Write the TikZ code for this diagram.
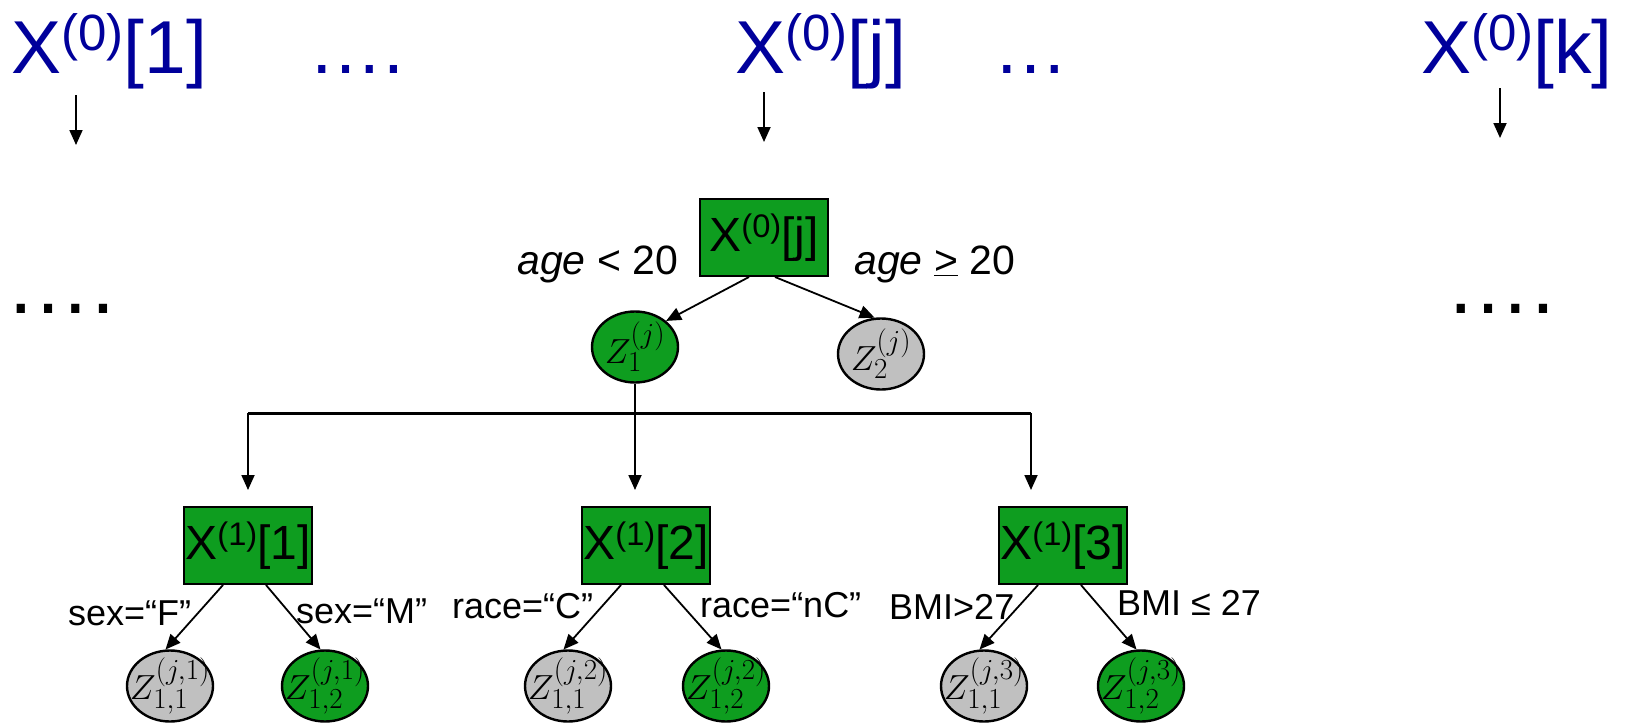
\documentclass[tikz,border=0pt]{standalone}
\usepackage[no-math]{fontspec}
\setmainfont{Liberation Sans}
\usepackage{graphicx}
\usetikzlibrary{shapes.geometric,arrows.meta}
\definecolor{nodegreen}{RGB}{14,157,31}
\definecolor{xblue}{RGB}{0,0,155}
\definecolor{nodegray}{RGB}{192,192,192}
\newcommand\xsup[1]{\raisebox{0.3em}{\scalebox{0.68}{(#1)}}}
\newcommand\zlab[1]{\scalebox{1.4}{$#1$}}
\begin{document}
\begin{tikzpicture}[x=1pt,y=-1pt,
  bigtxt/.style={font=\fontsize{75}{75}\selectfont, text=xblue, inner sep=0pt, anchor=base west},
  bigdots/.style={font=\fontsize{86}{86}\selectfont, text=black, inner sep=0pt, anchor=base west},
  boxnode/.style={draw, line width=2pt, fill=nodegreen, minimum width=128pt, minimum height=77pt, inner sep=0pt, font=\fontsize{48}{48}\selectfont},
  ellip/.style={ellipse, draw, line width=2.4pt, minimum width=86pt, minimum height=71pt, inner sep=0pt},
  greenell/.style={ellip, fill=nodegreen},
  grayell/.style={ellip, fill=nodegray},
  zt/.style={font=\fontsize{24.88}{25}\selectfont, inner sep=0pt},
  lbl/.style={font=\fontsize{36}{36}\selectfont, inner sep=0pt, anchor=base west},
  rlbl/.style={font=\fontsize{41}{41}\selectfont, inner sep=0pt, anchor=base west},
  arr/.style={-{Triangle[length=15pt,width=13pt]}, line width=1.8pt},
  bar/.style={line width=3pt}
]
\useasboundingbox (0,0) rectangle (1633,723);

% top row
\node[bigtxt] (x1) at (11,73) {X\xsup{0}[1]};
\node[bigtxt] (d1) at (308,73) {….};
\node[bigtxt] (xj) at (735,73) {X\xsup{0}[j]};
\node[bigtxt] (d2) at (993,73) {…};
\node[bigtxt] (xk) at (1421,73) {X\xsup{0}[k]};

\coordinate (a1s) at (76,95);   \coordinate (a1e) at (76,145);
\coordinate (a2s) at (764,92);  \coordinate (a2e) at (764,142);
\coordinate (a3s) at (1500,88); \coordinate (a3e) at (1500,138);
\draw[arr] (a1s) -- (a1e);
\draw[arr] (a2s) -- (a2e);
\draw[arr] (a3s) -- (a3e);

\node[bigdots] (ld) at (5,313) {….};
\node[bigdots] (rd) at (1445,313) {….};

% root
\node[boxnode] (root) at (764,237.5) {X\xsup{0}[j]};
\node[rlbl] (lage) at (517,274) {\textit{age} < 20};
\node[rlbl] (rage) at (854,274) {\textit{age} \underline{>} 20};

\node[greenell] (z1) at (635,347) {};
\node[zt] (z1t) at (z1) {\zlab{Z_{1}^{(j)}}};
\node[grayell] (z2) at (881,354) {};
\node[zt] (z2t) at (z2) {\zlab{Z_{2}^{(j)}}};

\draw[arr] ([xshift=-15pt]root.south) -- (z1.40);
\draw[arr] ([xshift=11pt]root.south) -- (z2.100);

% distribution bar
\coordinate (jn) at (635,413);
\coordinate (bl) at (248,413);
\coordinate (br) at (1031,413);
\coordinate (t1) at (248,490);
\coordinate (t2) at (635,490);
\coordinate (t3) at (1031,490);
\draw[line width=2pt] (z1.south) -- (jn);
\draw[bar] (bl) -- (br);
\draw[arr] (bl) -- (t1);
\draw[arr] (jn) -- (t2);
\draw[arr] (br) -- (t3);

% second level
\node[boxnode] (b1) at (248,545.5) {X\xsup{1}[1]};
\node[boxnode] (b2) at (646,545.5) {X\xsup{1}[2]};
\node[boxnode] (b3) at (1063,545.5) {X\xsup{1}[3]};

\node[grayell]  (z11) at (170,686) {};
\node[zt] (z11t) at (z11) {\zlab{Z_{1,1}^{(j,1)}}};
\node[greenell] (z12) at (325,686) {};
\node[zt] (z12t) at (z12) {\zlab{Z_{1,2}^{(j,1)}}};
\node[grayell]  (z21) at (568,686) {};
\node[zt] (z21t) at (z21) {\zlab{Z_{1,1}^{(j,2)}}};
\node[greenell] (z22) at (726,686) {};
\node[zt] (z22t) at (z22) {\zlab{Z_{1,2}^{(j,2)}}};
\node[grayell]  (z31) at (984,686) {};
\node[zt] (z31t) at (z31) {\zlab{Z_{1,1}^{(j,3)}}};
\node[greenell] (z32) at (1141,686) {};
\node[zt] (z32t) at (z32) {\zlab{Z_{1,2}^{(j,3)}}};

\node[lbl] (l11) at (68,625) {sex=“F”};
\node[lbl] (l12) at (296,623) {sex=“M”};
\node[lbl] (l21) at (452,618) {race=“C”};
\node[lbl] (l22) at (700,617) {race=“nC”};
\node[lbl] (l31) at (889,619) {BMI>27};
\node[lbl] (l32) at (1117,615) {BMI ≤ 27};

\draw[arr] ([xshift=-25pt]b1.south) -- (z11.97);
\draw[arr] ([xshift=18pt]b1.south) -- (z12.97);
\draw[arr] ([xshift=-25pt]b2.south) -- (z21.97);
\draw[arr] ([xshift=18pt]b2.south) -- (z22.97);
\draw[arr] ([xshift=-25pt]b3.south) -- (z31.97);
\draw[arr] ([xshift=18pt]b3.south) -- (z32.97);
\end{tikzpicture}
\end{document}
